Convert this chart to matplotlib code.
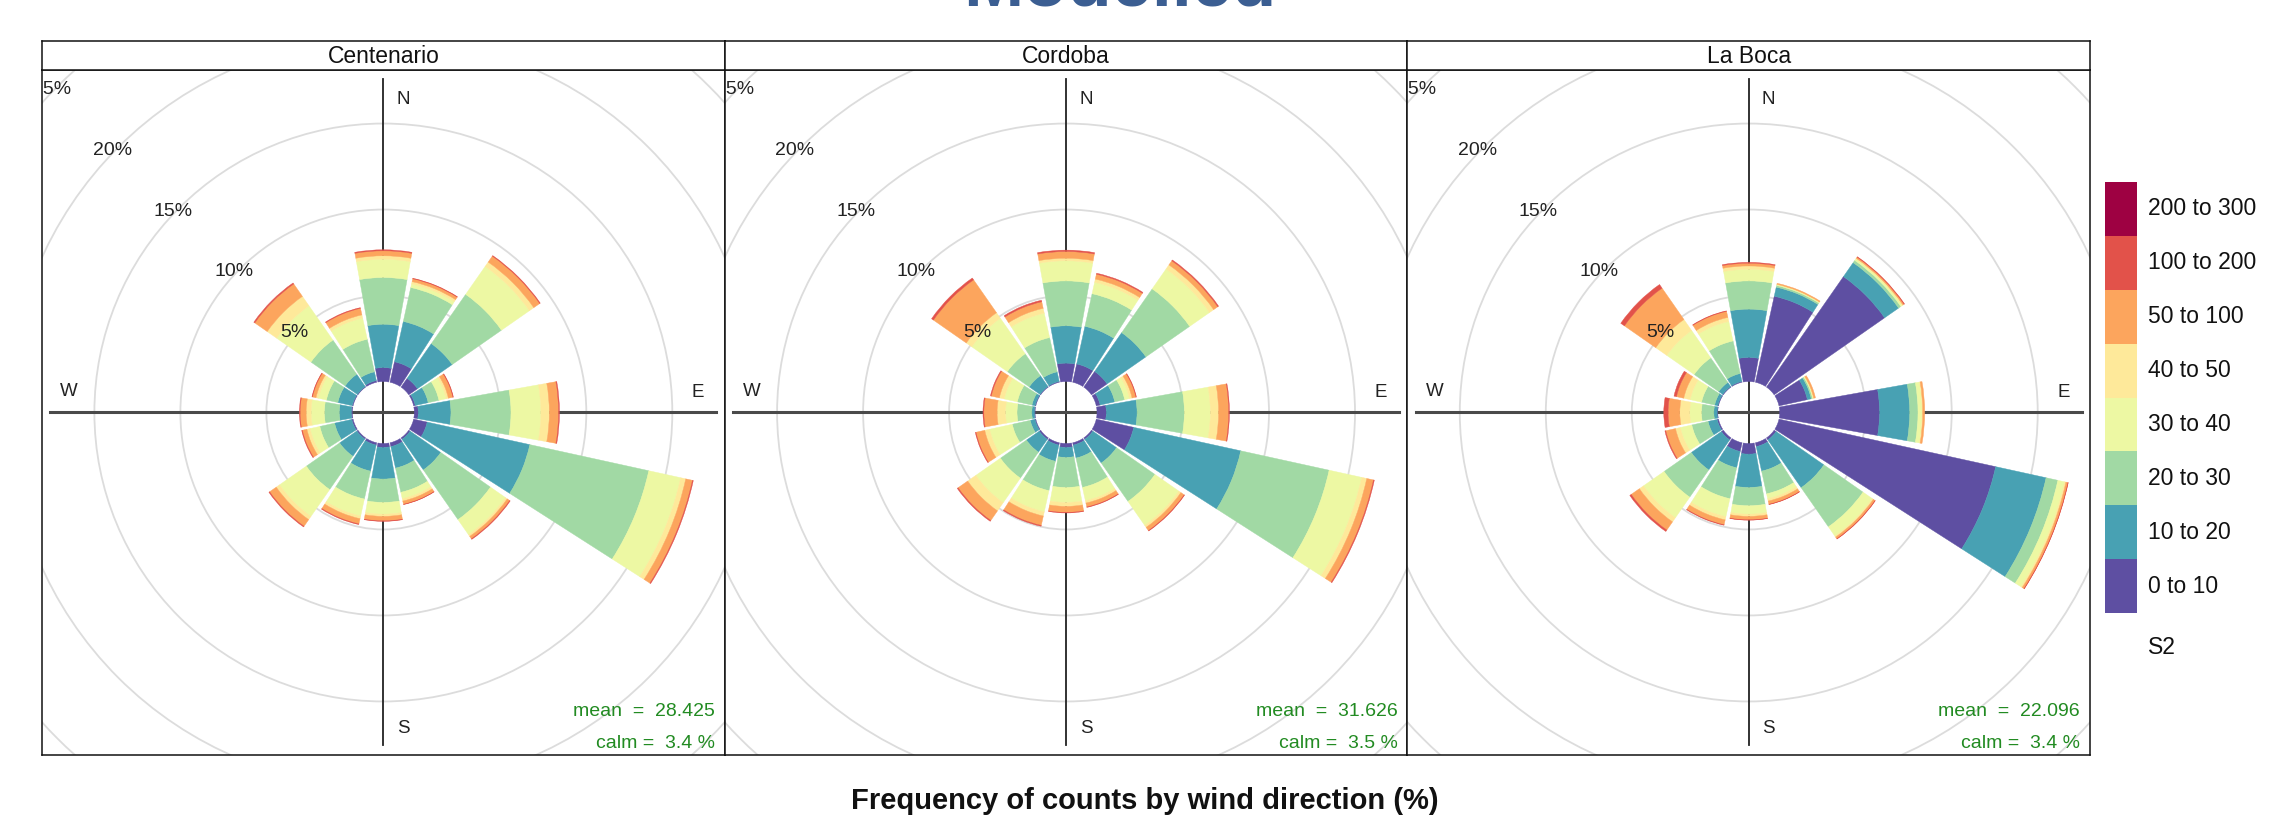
"""
Pollution roses of modelled S2 counts at three sites (Centenario, Cordoba,
La Boca), drawn as openair-style stacked wedges in a 1x3 strip layout.
"""

import numpy as np
import matplotlib
matplotlib.use("Agg")
import matplotlib.pyplot as plt
from matplotlib.patches import Wedge, Circle, Rectangle

plt.rcParams["font.family"] = ["Liberation Sans", "DejaVu Sans"]

# ── Data ────────────────────────────────────────────────────────────────────
STATIONS = ["Centenario", "Cordoba", "La Boca"]
MEANS = [28.425, 31.626, 22.096]
CALMS = [3.4, 3.5, 3.4]

DIRECTIONS = np.arange(16) * 22.5          # N, NNE, NE, ... NNW
BIN_LABELS = ["0 to 10", "10 to 20", "20 to 30", "30 to 40",
              "40 to 50", "50 to 100", "100 to 200", "200 to 300"]
BIN_COLOURS = ["#5E4FA2", "#48A1B3", "#A1D9A4", "#EDF8A3",
               "#FEE99A", "#FCA55D", "#E2524A", "#9E0142"]
GRID_PCT = [5, 10, 15, 20, 25]

# frequency (%) of each S2 bin, one row per direction N .. NNW
centenario = [
    [0.81, 2.52, 2.72, 1.06, 0.20, 0.29, 0.06, 0],
    [1.22, 2.40, 2.02, 0.21, 0.14, 0.17, 0.03, 0],
    [0.62, 2.46, 3.49, 1.98, 0.31, 0.42, 0.04, 0],
    [0.10, 0.77, 0.64, 0.43, 0.13, 0.27, 0.03, 0],
    [0.23, 1.90, 3.49, 1.74, 0.49, 0.54, 0.05, 0],
    [0.81, 6.11, 7.08, 1.90, 0.30, 0.40, 0.05, 0],
    [0.10, 2.17, 3.52, 1.07, 0.12, 0.17, 0.04, 0],
    [0.23, 1.28, 1.44, 0.38, 0.14, 0.19, 0.02, 0],
    [0.23, 1.84, 1.36, 0.68, 0.13, 0.26, 0.03, 0],
    [0.14, 1.55, 1.66, 1.01, 0.16, 0.31, 0.04, 0],
    [0.08, 1.22, 2.36, 1.90, 0.23, 0.47, 0.05, 0],
    [0.08, 1.02, 0.88, 0.58, 0.19, 0.27, 0.04, 0],
    [0.06, 0.70, 0.87, 0.77, 0.29, 0.35, 0.04, 0],
    [0.05, 0.86, 0.68, 0.48, 0.14, 0.21, 0.03, 0],
    [0.04, 0.87, 2.42, 2.43, 0.67, 0.88, 0.07, 0],
    [0.10, 0.52, 1.94, 1.26, 0.19, 0.39, 0.04, 0],
]

cordoba = [
    [1.07, 2.17, 2.61, 1.17, 0.15, 0.39, 0.08, 0],
    [1.09, 2.24, 1.94, 0.68, 0.19, 0.29, 0.06, 0],
    [1.11, 2.75, 3.10, 1.41, 0.29, 0.29, 0.06, 0],
    [0.23, 0.87, 0.59, 0.29, 0.15, 0.23, 0.03, 0],
    [0.54, 1.79, 2.75, 1.51, 0.48, 0.59, 0.04, 0],
    [2.23, 6.37, 5.26, 1.94, 0.30, 0.40, 0.05, 0],
    [0.10, 1.68, 2.72, 1.70, 0.14, 0.23, 0.03, 0],
    [0.14, 0.77, 1.75, 0.79, 0.14, 0.23, 0.03, 0],
    [0.23, 0.58, 1.75, 0.87, 0.23, 0.35, 0.03, 0],
    [0.14, 0.96, 1.75, 1.26, 0.25, 0.56, 0.05, 0],
    [0.10, 0.91, 1.84, 1.74, 0.58, 0.68, 0.06, 0],
    [0.05, 0.28, 1.07, 1.35, 0.29, 0.52, 0.04, 0],
    [0.04, 0.15, 0.86, 0.67, 0.49, 0.77, 0.05, 0],
    [0.04, 0.19, 0.87, 0.78, 0.29, 0.48, 0.05, 0],
    [0.04, 0.77, 1.55, 2.52, 0.39, 2.33, 0.13, 0],
    [0.05, 0.57, 2.04, 1.45, 0.29, 0.39, 0.09, 0],
]

la_boca = [
    [1.40, 2.81, 1.64, 0.68, 0.19, 0.16, 0.05, 0],
    [5.12, 0.54, 0.10, 0.05, 0.02, 0.06, 0.00, 0],
    [7.83, 0.99, 0.16, 0.11, 0.04, 0.08, 0.03, 0],
    [1.69, 0.23, 0.08, 0.05, 0.02, 0.10, 0.00, 0],
    [5.81, 1.75, 0.48, 0.24, 0.04, 0.11, 0.00, 0],
    [12.90, 3.00, 0.70, 0.40, 0.08, 0.12, 0.02, 0],
    [0.14, 3.39, 2.77, 0.66, 0.07, 0.12, 0.02, 0],
    [0.23, 1.46, 1.35, 0.29, 0.14, 0.19, 0.02, 0],
    [0.62, 1.94, 1.06, 0.49, 0.13, 0.20, 0.02, 0],
    [0.52, 0.97, 1.84, 1.07, 0.19, 0.29, 0.03, 0],
    [0.14, 2.13, 1.93, 1.46, 0.29, 0.58, 0.10, 0],
    [0.08, 0.54, 0.97, 0.68, 0.29, 0.58, 0.05, 0],
    [0.04, 0.19, 0.72, 0.68, 0.58, 0.68, 0.25, 0],
    [0.04, 0.19, 0.78, 0.68, 0.38, 0.43, 0.15, 0],
    [0.04, 0.29, 1.74, 1.94, 0.78, 2.22, 0.26, 0],
    [0.05, 0.47, 1.94, 1.16, 0.24, 0.36, 0.03, 0],
]

FREQS = [centenario, cordoba, la_boca]

# ── Layout (pixels) ─────────────────────────────────────────────────────────
W_PX, H_PX, DPI = 2278, 819, 100
PANEL_LEFT, PANEL_W = 42, 682.7
STRIP_TOP, PLOT_TOP, PLOT_BOTTOM = 41, 70, 755
PX_PER_PCT = 17.2          # radial scale
OFFSET = 1.8               # empty centre, in %
SECTOR = 22.5 * 0.9        # wedge width, degrees
AXIS_HALF = 333 / PX_PER_PCT


def fig_rect(x0, y0, x1, y1):
    """Pixel box (top-left origin) -> figure fraction rect."""
    return [x0 / W_PX, 1 - y1 / H_PX, (x1 - x0) / W_PX, (y1 - y0) / H_PX]


def draw_rose(ax, freqs, mean, calm):
    w_px = PANEL_W
    h_px = PLOT_BOTTOM - PLOT_TOP
    hx, hy = w_px / 2 / PX_PER_PCT, h_px / 2 / PX_PER_PCT
    ax.set_xlim(-hx, hx)
    ax.set_ylim(-hy, hy)
    ax.set_xticks([])
    ax.set_yticks([])
    for sp in ax.spines.values():
        sp.set_linewidth(1.1)
        sp.set_color("#111111")

    # grid circles
    for g in GRID_PCT:
        ax.add_patch(Circle((0, 0), OFFSET + g, fill=False,
                            ec="#DCDCDC", lw=1.3, zorder=1))

    # axis cross
    ax.plot([0, 0], [-AXIS_HALF, AXIS_HALF], color="#222222", lw=1.3, zorder=2)
    ax.plot([-AXIS_HALF, AXIS_HALF], [0, 0], color="#4a4a4a", lw=2.2, zorder=2)

    # stacked wedges
    for d, row in zip(DIRECTIONS, freqs):
        inner = OFFSET
        t1, t2 = 90 - d - SECTOR / 2, 90 - d + SECTOR / 2
        for f, col in zip(row, BIN_COLOURS):
            if f <= 0:
                continue
            ax.add_patch(Wedge((0, 0), inner + f, t1, t2, width=f,
                               fc=col, ec=col, lw=0.3, zorder=3))
            inner += f

    # grid labels along the NW diagonal, clipped by the panel frame
    for g in GRID_PCT:
        r = OFFSET + g
        lab = ax.text(-r * np.sin(np.pi / 4) - 0.35, r * np.cos(np.pi / 4) - 0.17,
                      f"{g}%", ha="center", va="center", fontsize=14,
                      color="#222222", zorder=5)
        lab.set_clip_on(True)
        lab.set_clip_box(ax.bbox)

    # compass points
    cfg = dict(fontsize=13.5, color="#222222", ha="center", va="center", zorder=5)
    ax.text(1.16, 18.2, "N", **cfg)
    ax.text(1.16, -18.4, "S", **cfg)
    ax.text(-18.26, 1.22, "W", **cfg)
    ax.text(18.3, 1.16, "E", **cfg)

    # summary stats
    xr = 1 - 10 / w_px
    ax.text(xr, 43 / h_px, f"mean  =  {mean:.3f}", transform=ax.transAxes,
            ha="right", va="center", fontsize=14, color="forestgreen")
    ax.text(xr, 12 / h_px, f"calm =  {calm:.1f} %", transform=ax.transAxes,
            ha="right", va="center", fontsize=14, color="forestgreen")


def main():
    fig = plt.figure(figsize=(W_PX / DPI, H_PX / DPI), dpi=DPI)
    fig.patch.set_facecolor("white")

    for i, name in enumerate(STATIONS):
        x0 = PANEL_LEFT + i * PANEL_W
        x1 = x0 + PANEL_W
        ax = fig.add_axes(fig_rect(x0, PLOT_TOP, x1, PLOT_BOTTOM))
        draw_rose(ax, FREQS[i], MEANS[i], CALMS[i])

        strip = fig.add_axes(fig_rect(x0, STRIP_TOP, x1, PLOT_TOP))
        strip.set_xticks([])
        strip.set_yticks([])
        for sp in strip.spines.values():
            sp.set_linewidth(1.1)
            sp.set_color("#111111")
        strip.text(0.5, 0.45, name, transform=strip.transAxes,
                   ha="center", va="center", fontsize=16.5, color="#111111")

    # overlay in pixel coordinates for legend, caption and heading
    over = fig.add_axes([0, 0, 1, 1], zorder=-1)
    over.set_xlim(0, W_PX)
    over.set_ylim(H_PX, 0)
    over.axis("off")

    box_x, box_w = 2105, 32
    box_top, box_bottom = 182, 613
    step = (box_bottom - box_top) / len(BIN_LABELS)
    for k, (lab, col) in enumerate(zip(BIN_LABELS[::-1], BIN_COLOURS[::-1])):
        y = box_top + k * step
        over.add_patch(Rectangle((box_x, y), box_w, step, fc=col, ec="none"))
        over.text(2148, y + step / 2, lab, ha="left", va="center",
                  fontsize=16.5, color="#111111")
    over.text(2148, 648, "S2", ha="left", va="center", fontsize=16.5,
              color="#111111")

    over.text(1145, 801, "Frequency of counts by wind direction (%)",
              ha="center", va="center", fontsize=21, fontweight="bold",
              color="#111111")
    # heading sits mostly above the canvas; only its lower part shows
    over.text(1120, 5, "Modelled", ha="center", va="baseline",
              fontsize=52, fontweight="bold", color="#3B5E92", clip_on=False)

    fig.savefig("out.png", dpi=DPI)
    plt.close(fig)


if __name__ == "__main__":
    main()
